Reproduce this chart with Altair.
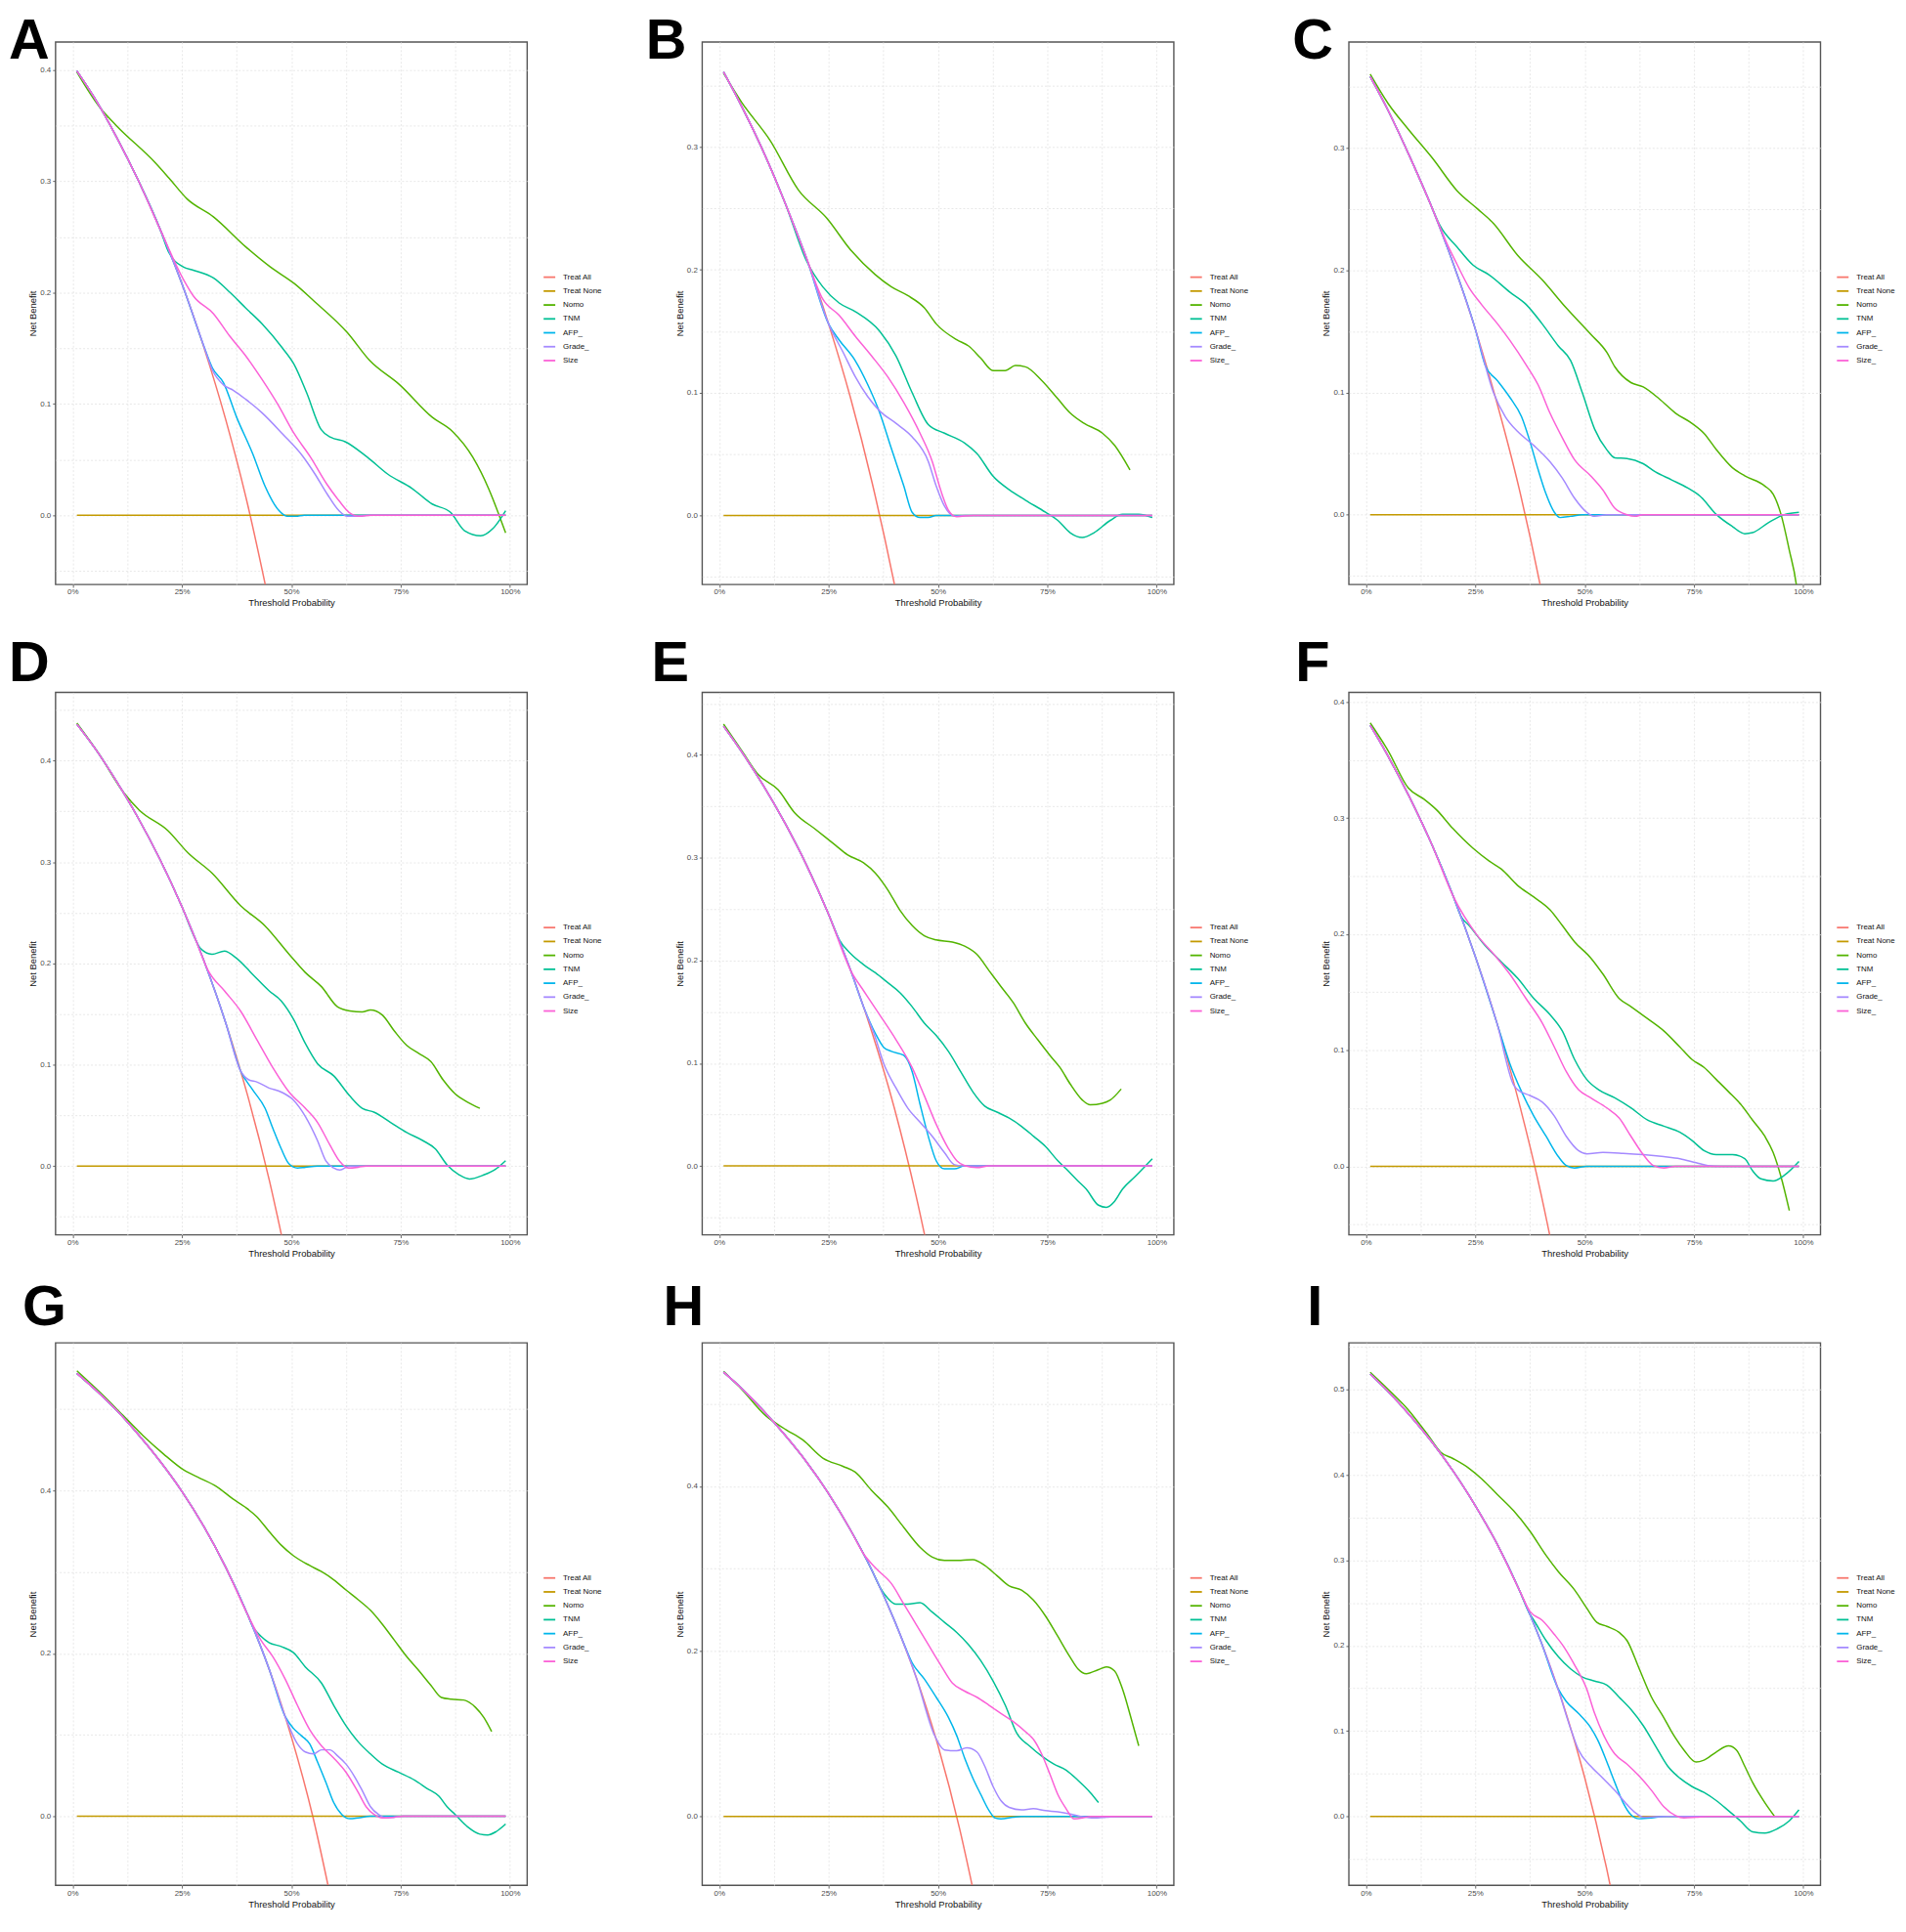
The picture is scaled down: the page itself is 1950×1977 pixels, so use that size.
import math
import altair as alt
import pandas as pd

FONT = "Liberation Sans"
HUE = ["#F8766D", "#C49A00", "#53B400", "#00C094", "#00B6EB", "#A58AFF", "#FB61D7"]
BASE_NAMES = ["Treat All", "Treat None", "Nomo", "TNM", "AFP_", "Grade_"]
NONE = [(0.01, 0.0), (0.99, 0.0)]

# ---------------- Panel A ----------------
A_ALL = [(0.01,0.399),(0.05,0.375),(0.10,0.340),(0.15,0.301),(0.20,0.257),(0.25,0.208),(0.30,0.151),(0.35,0.086),(0.40,0.010),(0.45,-0.080)]
A_NOMO = [(0.01,0.398),(0.063,0.366),(0.10,0.350),(0.188,0.317),(0.22,0.303),(0.262,0.284),(0.322,0.268),(0.396,0.241),(0.452,0.223),(0.507,0.208),(0.55,0.193),(0.628,0.164),(0.679,0.139),(0.748,0.117),(0.822,0.088),(0.869,0.075),(0.915,0.052),(0.952,0.023),(0.975,0.0),(0.99,-0.016)]
A_TNM = [(0.01,0.399),(0.05,0.375),(0.10,0.340),(0.15,0.301),(0.20,0.257),(0.22,0.236),(0.253,0.223),(0.276,0.220),(0.322,0.213),(0.36,0.200),(0.396,0.186),(0.433,0.172),(0.48,0.150),(0.507,0.135),(0.535,0.110),(0.568,0.077),(0.59,0.070),(0.623,0.066),(0.674,0.052),(0.72,0.037),(0.776,0.024),(0.822,0.010),(0.864,0.0025),(0.896,-0.014),(0.933,-0.0185),(0.961,-0.012),(0.99,0.004)]
A_AFP = [(0.01,0.399),(0.05,0.375),(0.10,0.340),(0.15,0.301),(0.20,0.257),(0.25,0.208),(0.30,0.152),(0.32,0.132),(0.345,0.119),(0.375,0.088),(0.412,0.055),(0.44,0.026),(0.472,0.004),(0.49,-0.001),(0.51,-0.001),(0.53,0.0),(0.99,0.0)]
A_GRADE = [(0.01,0.399),(0.05,0.375),(0.10,0.340),(0.15,0.301),(0.20,0.257),(0.25,0.208),(0.30,0.152),(0.32,0.130),(0.345,0.117),(0.368,0.112),(0.396,0.104),(0.433,0.092),(0.48,0.073),(0.526,0.053),(0.554,0.037),(0.582,0.019),(0.609,0.004),(0.628,-0.001),(0.646,-0.001),(0.674,0.0),(0.99,0.0)]
A_SIZE = [(0.01,0.399),(0.05,0.375),(0.10,0.340),(0.15,0.301),(0.20,0.257),(0.253,0.212),(0.276,0.197),(0.322,0.181),(0.359,0.161),(0.396,0.143),(0.433,0.122),(0.47,0.099),(0.507,0.073),(0.544,0.052),(0.581,0.028),(0.609,0.013),(0.632,0.0025),(0.656,-0.001),(0.683,0.0),(0.99,0.0)]

# ---------------- Panel B ----------------
B_ALL = [(0.01,0.361),(0.05,0.334),(0.10,0.297),(0.15,0.255),(0.20,0.209),(0.25,0.156),(0.30,0.096),(0.35,0.026),(0.40,-0.055),(0.42,-0.091)]
B_NOMO = [(0.01,0.360),(0.052,0.336),(0.117,0.305),(0.181,0.265),(0.246,0.242),(0.302,0.2155),(0.357,0.196),(0.394,0.186),(0.431,0.179),(0.469,0.169),(0.496,0.156),(0.543,0.143),(0.57,0.138),(0.598,0.128),(0.626,0.118),(0.654,0.118),(0.677,0.122),(0.70,0.121),(0.737,0.110),(0.774,0.095),(0.802,0.0835),(0.834,0.075),(0.876,0.067),(0.904,0.057),(0.939,0.037)]
B_TNM = [(0.01,0.361),(0.05,0.334),(0.10,0.297),(0.15,0.255),(0.20,0.207),(0.237,0.186),(0.274,0.173),(0.311,0.166),(0.367,0.150),(0.404,0.130),(0.441,0.100),(0.478,0.074),(0.515,0.067),(0.561,0.059),(0.589,0.0505),(0.626,0.032),(0.663,0.021),(0.70,0.0125),(0.746,0.0026),(0.774,-0.004),(0.802,-0.014),(0.83,-0.018),(0.857,-0.014),(0.894,-0.004),(0.922,0.001),(0.959,0.001),(0.99,-0.0017)]
B_AFP = [(0.01,0.361),(0.05,0.334),(0.10,0.297),(0.15,0.255),(0.20,0.209),(0.25,0.156),(0.274,0.143),(0.311,0.126),(0.339,0.107),(0.367,0.0835),(0.394,0.054),(0.422,0.024),(0.441,0.0026),(0.459,-0.0017),(0.478,-0.0017),(0.496,0.0),(0.99,0.0)]
B_GRADE = [(0.01,0.361),(0.05,0.334),(0.10,0.297),(0.15,0.255),(0.20,0.209),(0.25,0.156),(0.283,0.133),(0.311,0.113),(0.339,0.097),(0.367,0.085),(0.404,0.075),(0.441,0.064),(0.478,0.044),(0.496,0.024),(0.515,0.0076),(0.538,-0.0007),(0.561,0.0),(0.99,0.0)]
B_SIZE = [(0.01,0.361),(0.05,0.334),(0.10,0.297),(0.15,0.255),(0.20,0.209),(0.237,0.176),(0.274,0.163),(0.311,0.146),(0.348,0.130),(0.385,0.113),(0.422,0.092),(0.459,0.067),(0.487,0.044),(0.506,0.021),(0.524,0.0043),(0.543,-0.001),(0.58,0.0),(0.99,0.0)]

# ---------------- Panel C ----------------
C_ALL = [(0.01,0.358),(0.05,0.331),(0.10,0.293),(0.15,0.252),(0.20,0.205),(0.25,0.152),(0.30,0.091),(0.35,0.022),(0.40,-0.060),(0.42,-0.097)]
C_NOMO = [(0.01,0.360),(0.051,0.336),(0.097,0.315),(0.153,0.291),(0.208,0.265),(0.255,0.250),(0.292,0.238),(0.347,0.212),(0.403,0.192),(0.458,0.169),(0.514,0.1475),(0.551,0.1326),(0.569,0.121),(0.606,0.108),(0.634,0.1045),(0.671,0.0946),(0.708,0.083),(0.745,0.0748),(0.773,0.0665),(0.801,0.0533),(0.838,0.0384),(0.866,0.0318),(0.912,0.0235),(0.931,0.0169),(0.949,0.0003),(0.968,-0.029),(0.984,-0.057),(0.99,-0.075)]
C_TNM = [(0.01,0.358),(0.05,0.331),(0.10,0.293),(0.15,0.252),(0.17,0.236),(0.208,0.219),(0.245,0.204),(0.282,0.196),(0.329,0.182),(0.366,0.172),(0.403,0.156),(0.44,0.138),(0.468,0.126),(0.495,0.0996),(0.523,0.070),(0.551,0.053),(0.569,0.0466),(0.597,0.046),(0.634,0.0417),(0.662,0.035),(0.699,0.0285),(0.736,0.0218),(0.764,0.0152),(0.801,0.0003),(0.838,-0.0096),(0.866,-0.0155),(0.884,-0.0146),(0.921,-0.0063),(0.958,0.0003),(0.99,0.002)]
C_AFP = [(0.01,0.358),(0.05,0.331),(0.10,0.293),(0.15,0.252),(0.20,0.205),(0.25,0.152),(0.273,0.122),(0.301,0.1095),(0.329,0.096),(0.356,0.080),(0.375,0.060),(0.394,0.0367),(0.412,0.0169),(0.431,0.002),(0.444,-0.0023),(0.468,-0.0013),(0.495,0.0),(0.99,0.0)]
C_GRADE = [(0.01,0.358),(0.05,0.331),(0.10,0.293),(0.15,0.252),(0.20,0.205),(0.25,0.152),(0.292,0.0996),(0.319,0.080),(0.347,0.068),(0.384,0.0566),(0.421,0.0433),(0.449,0.030),(0.477,0.0136),(0.505,0.002),(0.523,-0.0013),(0.55,0.0),(0.99,0.0)]
C_SIZE = [(0.01,0.358),(0.05,0.331),(0.10,0.293),(0.15,0.252),(0.185,0.222),(0.208,0.205),(0.236,0.1856),(0.264,0.172),(0.301,0.156),(0.329,0.1426),(0.366,0.1227),(0.394,0.106),(0.421,0.083),(0.449,0.063),(0.477,0.045),(0.514,0.0318),(0.542,0.0202),(0.569,0.0053),(0.597,0.0),(0.616,-0.0013),(0.634,0.0),(0.99,0.0)]

# ---------------- Panel D ----------------
D_ALL = [(0.01,0.436),(0.05,0.413),(0.10,0.380),(0.15,0.3435),(0.20,0.3025),(0.25,0.256),(0.30,0.203),(0.35,0.1415),(0.40,0.070),(0.45,-0.0145),(0.48,-0.073)]
D_NOMO = [(0.01,0.437),(0.06,0.407),(0.116,0.369),(0.153,0.351),(0.218,0.331),(0.264,0.309),(0.319,0.289),(0.384,0.257),(0.44,0.237),(0.495,0.209),(0.532,0.191),(0.569,0.177),(0.606,0.157),(0.634,0.153),(0.662,0.152),(0.681,0.154),(0.708,0.149),(0.736,0.133),(0.764,0.119),(0.792,0.111),(0.819,0.103),(0.847,0.085),(0.875,0.071),(0.903,0.063),(0.931,0.057)]
D_TNM = [(0.01,0.436),(0.05,0.413),(0.10,0.380),(0.15,0.3435),(0.20,0.3025),(0.25,0.256),(0.282,0.2227),(0.292,0.215),(0.319,0.209),(0.347,0.212),(0.375,0.205),(0.412,0.189),(0.449,0.173),(0.477,0.163),(0.505,0.145),(0.532,0.121),(0.56,0.101),(0.597,0.089),(0.634,0.069),(0.662,0.057),(0.69,0.053),(0.727,0.043),(0.764,0.033),(0.801,0.025),(0.829,0.017),(0.856,0.0012),(0.884,-0.0088),(0.907,-0.0128),(0.94,-0.0088),(0.968,-0.0028),(0.99,0.0052)]
D_AFP = [(0.01,0.436),(0.05,0.413),(0.10,0.380),(0.15,0.3435),(0.20,0.3025),(0.25,0.256),(0.30,0.203),(0.35,0.1415),(0.384,0.094),(0.412,0.075),(0.44,0.057),(0.458,0.037),(0.477,0.017),(0.495,0.002),(0.514,-0.002),(0.532,-0.0012),(0.56,0.0),(0.99,0.0)]
D_GRADE = [(0.01,0.436),(0.05,0.413),(0.10,0.380),(0.15,0.3435),(0.20,0.3025),(0.25,0.256),(0.30,0.203),(0.35,0.1415),(0.384,0.094),(0.403,0.085),(0.421,0.083),(0.449,0.077),(0.477,0.073),(0.505,0.065),(0.532,0.049),(0.56,0.025),(0.579,0.005),(0.597,-0.002),(0.611,-0.004),(0.634,0.0),(0.99,0.0)]
D_SIZE = [(0.01,0.436),(0.05,0.413),(0.10,0.380),(0.15,0.3435),(0.20,0.3025),(0.25,0.256),(0.282,0.2227),(0.31,0.193),(0.347,0.173),(0.384,0.153),(0.421,0.125),(0.458,0.097),(0.495,0.073),(0.532,0.057),(0.56,0.043),(0.588,0.021),(0.611,0.0044),(0.63,-0.002),(0.653,-0.0012),(0.671,0.0),(0.99,0.0)]

# ---------------- Panel E ----------------
E_ALL = [(0.01,0.428),(0.05,0.404),(0.10,0.371),(0.15,0.334),(0.20,0.2925),(0.25,0.245),(0.30,0.191),(0.35,0.129),(0.40,0.057),(0.45,-0.029),(0.48,-0.088)]
E_NOMO = [(0.01,0.430),(0.052,0.404),(0.089,0.381),(0.135,0.366),(0.172,0.344),(0.219,0.328),(0.265,0.3125),(0.293,0.303),(0.33,0.295),(0.357,0.285),(0.385,0.269),(0.413,0.249),(0.441,0.234),(0.469,0.224),(0.496,0.220),(0.533,0.218),(0.561,0.214),(0.589,0.206),(0.617,0.190),(0.644,0.1746),(0.672,0.159),(0.70,0.139),(0.728,0.123),(0.756,0.1076),(0.779,0.0958),(0.802,0.080),(0.83,0.0642),(0.848,0.0595),(0.876,0.061),(0.894,0.0642),(0.919,0.0749)]
E_TNM = [(0.01,0.428),(0.05,0.404),(0.10,0.371),(0.15,0.334),(0.20,0.2925),(0.25,0.245),(0.274,0.2204),(0.302,0.206),(0.33,0.196),(0.357,0.188),(0.385,0.1785),(0.413,0.1687),(0.441,0.155),(0.469,0.139),(0.496,0.127),(0.524,0.1115),(0.552,0.0918),(0.58,0.0721),(0.607,0.0583),(0.635,0.0524),(0.663,0.0465),(0.691,0.0386),(0.719,0.0288),(0.746,0.0189),(0.774,0.0051),(0.793,-0.0028),(0.82,-0.0146),(0.839,-0.0225),(0.867,-0.0382),(0.885,-0.0402),(0.904,-0.0343),(0.922,-0.0225),(0.95,-0.0106),(0.99,0.0071)]
E_AFP = [(0.01,0.428),(0.05,0.404),(0.10,0.371),(0.15,0.334),(0.20,0.2925),(0.25,0.245),(0.30,0.191),(0.33,0.155),(0.357,0.129),(0.376,0.1155),(0.394,0.1115),(0.422,0.1076),(0.441,0.0918),(0.459,0.0603),(0.478,0.0288),(0.496,0.0051),(0.515,-0.0028),(0.538,-0.0028),(0.561,0.0),(0.99,0.0)]
E_GRADE = [(0.01,0.428),(0.05,0.404),(0.10,0.371),(0.15,0.334),(0.20,0.2925),(0.25,0.245),(0.30,0.191),(0.33,0.155),(0.357,0.125),(0.376,0.0997),(0.404,0.076),(0.431,0.0564),(0.459,0.0426),(0.487,0.0288),(0.515,0.013),(0.538,0.0012),(0.561,0.0),(0.99,0.0)]
E_SIZE = [(0.01,0.428),(0.05,0.404),(0.10,0.371),(0.15,0.334),(0.20,0.2925),(0.25,0.245),(0.302,0.189),(0.33,0.1706),(0.367,0.147),(0.404,0.123),(0.441,0.0958),(0.469,0.0682),(0.496,0.0406),(0.524,0.0169),(0.543,0.0051),(0.561,0.0004),(0.589,-0.0016),(0.617,0.0),(0.99,0.0)]

# ---------------- Panel F ----------------
F_ALL = [(0.01,0.380),(0.05,0.354),(0.10,0.318),(0.15,0.278),(0.20,0.2325),(0.25,0.181),(0.30,0.123),(0.35,0.055),(0.40,-0.023),(0.43,-0.077)]
F_NOMO = [(0.01,0.382),(0.051,0.358),(0.097,0.326),(0.134,0.316),(0.162,0.307),(0.199,0.291),(0.245,0.274),(0.282,0.263),(0.31,0.256),(0.347,0.242),(0.384,0.232),(0.421,0.221),(0.449,0.2075),(0.477,0.1935),(0.514,0.1796),(0.542,0.1656),(0.579,0.1446),(0.606,0.1376),(0.644,0.1272),(0.681,0.1167),(0.718,0.1027),(0.745,0.0922),(0.773,0.0852),(0.801,0.0748),(0.829,0.0643),(0.856,0.0538),(0.884,0.0398),(0.912,0.0259),(0.931,0.0119),(0.949,-0.0091),(0.968,-0.0381)]
F_TNM = [(0.01,0.380),(0.05,0.354),(0.10,0.318),(0.15,0.278),(0.20,0.2325),(0.218,0.215),(0.236,0.2075),(0.273,0.190),(0.31,0.176),(0.347,0.162),(0.384,0.1446),(0.421,0.1307),(0.449,0.1167),(0.477,0.0922),(0.505,0.0748),(0.532,0.066),(0.569,0.059),(0.606,0.0503),(0.644,0.0398),(0.681,0.0346),(0.718,0.0293),(0.745,0.0224),(0.773,0.0136),(0.801,0.0101),(0.838,0.0101),(0.866,0.0066),(0.884,-0.0038),(0.903,-0.0108),(0.931,-0.0126),(0.958,-0.0073),(0.99,0.0042)]
F_AFP = [(0.01,0.380),(0.05,0.354),(0.10,0.318),(0.15,0.278),(0.20,0.2325),(0.25,0.181),(0.30,0.123),(0.329,0.0887),(0.356,0.0643),(0.384,0.0433),(0.412,0.0259),(0.44,0.0084),(0.458,0.0007),(0.477,-0.0014),(0.505,0.0),(0.99,0.0)]
F_GRADE = [(0.01,0.380),(0.05,0.354),(0.10,0.318),(0.15,0.278),(0.20,0.2325),(0.25,0.181),(0.30,0.123),(0.338,0.070),(0.347,0.066),(0.375,0.061),(0.403,0.0555),(0.431,0.0433),(0.458,0.0259),(0.486,0.0136),(0.505,0.0108),(0.542,0.0119),(0.588,0.0112),(0.634,0.0101),(0.681,0.0084),(0.718,0.0066),(0.755,0.0031),(0.782,0.0007),(0.81,0.0),(0.99,0.0)]
F_SIZE = [(0.01,0.380),(0.05,0.354),(0.10,0.318),(0.15,0.278),(0.20,0.2325),(0.255,0.1988),(0.292,0.183),(0.329,0.1656),(0.366,0.1446),(0.403,0.1237),(0.431,0.1027),(0.458,0.0817),(0.486,0.066),(0.514,0.059),(0.551,0.0503),(0.579,0.0416),(0.606,0.0259),(0.634,0.0101),(0.657,0.0007),(0.681,-0.0014),(0.708,0.0),(0.99,0.0)]

# ---------------- Panel G ----------------
G_ALL = [(0.01,0.544),(0.05,0.525),(0.10,0.499),(0.15,0.469),(0.20,0.436),(0.25,0.399),(0.30,0.356),(0.35,0.306),(0.40,0.248),(0.45,0.180),(0.50,0.098),(0.55,-0.002),(0.59,-0.100)]
G_NOMO = [(0.01,0.547),(0.06,0.522),(0.116,0.492),(0.162,0.467),(0.208,0.445),(0.255,0.425),(0.292,0.415),(0.329,0.405),(0.366,0.390),(0.394,0.380),(0.421,0.368),(0.449,0.350),(0.477,0.333),(0.505,0.320),(0.542,0.308),(0.569,0.3005),(0.597,0.2905),(0.625,0.278),(0.653,0.266),(0.681,0.253),(0.708,0.236),(0.736,0.216),(0.764,0.196),(0.792,0.1786),(0.819,0.161),(0.843,0.146),(0.866,0.1438),(0.894,0.1428),(0.921,0.1338),(0.94,0.1214),(0.958,0.104)]
G_TNM = [(0.01,0.544),(0.05,0.525),(0.10,0.499),(0.15,0.469),(0.20,0.436),(0.25,0.399),(0.30,0.356),(0.35,0.306),(0.40,0.248),(0.412,0.233),(0.431,0.221),(0.449,0.2134),(0.477,0.2085),(0.505,0.201),(0.532,0.1836),(0.569,0.1637),(0.597,0.1363),(0.625,0.1114),(0.653,0.0915),(0.681,0.0766),(0.708,0.0642),(0.745,0.0542),(0.782,0.0443),(0.81,0.0343),(0.838,0.0244),(0.856,0.0119),(0.875,0.002),(0.903,-0.0129),(0.931,-0.0219),(0.949,-0.0229),(0.968,-0.0189),(0.99,-0.0095)]
G_AFP = [(0.01,0.544),(0.05,0.525),(0.10,0.499),(0.15,0.469),(0.20,0.436),(0.25,0.399),(0.30,0.356),(0.35,0.306),(0.40,0.248),(0.45,0.180),(0.486,0.1226),(0.505,0.108),(0.523,0.099),(0.542,0.089),(0.56,0.0667),(0.579,0.0418),(0.597,0.0169),(0.616,0.002),(0.634,-0.003),(0.653,-0.002),(0.681,0.0),(0.99,0.0)]
G_GRADE = [(0.01,0.544),(0.05,0.525),(0.10,0.499),(0.15,0.469),(0.20,0.436),(0.25,0.399),(0.30,0.356),(0.35,0.306),(0.40,0.248),(0.45,0.180),(0.486,0.1226),(0.514,0.089),(0.532,0.079),(0.551,0.0766),(0.569,0.0816),(0.588,0.0816),(0.606,0.0741),(0.625,0.0642),(0.644,0.0493),(0.662,0.0318),(0.681,0.0119),(0.70,0.002),(0.718,-0.002),(0.736,-0.001),(0.755,0.0),(0.99,0.0)]
G_SIZE = [(0.01,0.544),(0.05,0.525),(0.10,0.499),(0.15,0.469),(0.20,0.436),(0.25,0.399),(0.30,0.356),(0.35,0.306),(0.40,0.248),(0.431,0.216),(0.458,0.196),(0.486,0.1687),(0.514,0.1363),(0.542,0.1065),(0.569,0.0866),(0.597,0.0716),(0.625,0.0542),(0.653,0.0294),(0.671,0.0119),(0.69,0.002),(0.708,-0.002),(0.736,-0.001),(0.755,0.0),(0.99,0.0)]

# ---------------- Panel H ----------------
H_ALL = [(0.01,0.538),(0.05,0.519),(0.10,0.492),(0.15,0.462),(0.20,0.429),(0.25,0.391),(0.30,0.347),(0.35,0.297),(0.40,0.238),(0.45,0.169),(0.50,0.086),(0.55,-0.016),(0.58,-0.088)]
H_NOMO = [(0.01,0.539),(0.052,0.517),(0.107,0.485),(0.154,0.468),(0.191,0.456),(0.237,0.434),(0.283,0.424),(0.311,0.417),(0.348,0.395),(0.385,0.375),(0.422,0.350),(0.459,0.326),(0.487,0.314),(0.515,0.310),(0.552,0.310),(0.58,0.311),(0.607,0.304),(0.635,0.2915),(0.663,0.279),(0.691,0.274),(0.718,0.262),(0.746,0.2425),(0.774,0.218),(0.802,0.193),(0.82,0.1787),(0.839,0.1728),(0.867,0.1777),(0.885,0.181),(0.904,0.176),(0.922,0.154),(0.941,0.1198),(0.959,0.0854)]
H_TNM = [(0.01,0.538),(0.05,0.519),(0.10,0.492),(0.15,0.462),(0.20,0.429),(0.25,0.391),(0.30,0.347),(0.35,0.297),(0.367,0.278),(0.385,0.2645),(0.404,0.257),(0.431,0.257),(0.459,0.2587),(0.487,0.2474),(0.515,0.235),(0.543,0.2228),(0.57,0.208),(0.598,0.1885),(0.626,0.164),(0.654,0.1345),(0.681,0.100),(0.709,0.0854),(0.737,0.0731),(0.765,0.0633),(0.793,0.056),(0.82,0.0437),(0.848,0.029),(0.867,0.0167)]
H_AFP = [(0.01,0.538),(0.05,0.519),(0.10,0.492),(0.15,0.462),(0.20,0.429),(0.25,0.391),(0.30,0.347),(0.35,0.297),(0.40,0.238),(0.422,0.2093),(0.441,0.186),(0.469,0.1664),(0.496,0.1443),(0.524,0.1198),(0.543,0.0977),(0.561,0.0707),(0.58,0.0461),(0.598,0.0265),(0.617,0.0069),(0.631,-0.002),(0.644,-0.003),(0.672,-0.001),(0.691,0.0),(0.99,0.0)]
H_GRADE = [(0.01,0.538),(0.05,0.519),(0.10,0.492),(0.15,0.462),(0.20,0.429),(0.25,0.391),(0.30,0.347),(0.35,0.297),(0.40,0.238),(0.45,0.169),(0.492,0.0984),(0.515,0.0805),(0.543,0.0795),(0.566,0.083),(0.589,0.078),(0.607,0.0609),(0.626,0.0363),(0.644,0.0191),(0.663,0.0108),(0.691,0.0079),(0.718,0.0093),(0.746,0.0069),(0.774,0.0054),(0.802,0.0029),(0.83,-0.0005),(0.857,-0.002),(0.885,-0.001),(0.913,0.0),(0.99,0.0)]
H_SIZE = [(0.01,0.538),(0.05,0.519),(0.10,0.492),(0.15,0.462),(0.20,0.429),(0.25,0.391),(0.30,0.347),(0.33,0.318),(0.357,0.301),(0.394,0.2817),(0.422,0.2572),(0.45,0.2326),(0.478,0.208),(0.506,0.1836),(0.533,0.1615),(0.561,0.1517),(0.589,0.1443),(0.617,0.1345),(0.644,0.1247),(0.672,0.1148),(0.70,0.1026),(0.719,0.0928),(0.737,0.0756),(0.756,0.051),(0.774,0.0265),(0.793,0.0093),(0.811,-0.003),(0.83,-0.002),(0.848,0.0),(0.99,0.0)]

# ---------------- Panel I ----------------
I_ALL = [(0.01,0.518),(0.05,0.498),(0.10,0.470),(0.15,0.439),(0.20,0.404),(0.25,0.364),(0.30,0.319),(0.35,0.266),(0.40,0.205),(0.45,0.133),(0.50,0.046),(0.55,-0.060),(0.57,-0.109)]
I_NOMO = [(0.01,0.520),(0.051,0.500),(0.097,0.476),(0.144,0.445),(0.171,0.4265),(0.199,0.419),(0.236,0.4075),(0.264,0.3956),(0.301,0.3767),(0.338,0.3577),(0.375,0.334),(0.412,0.3055),(0.44,0.2865),(0.477,0.2652),(0.505,0.2438),(0.528,0.2272),(0.551,0.2225),(0.579,0.2154),(0.597,0.2059),(0.625,0.1727),(0.653,0.1395),(0.681,0.1157),(0.699,0.0991),(0.727,0.0778),(0.755,0.0636),(0.773,0.0659),(0.801,0.0754),(0.829,0.0825),(0.847,0.0778),(0.866,0.0588),(0.884,0.0398),(0.912,0.0161),(0.935,-0.0005)]
I_TNM = [(0.01,0.518),(0.05,0.498),(0.10,0.470),(0.15,0.439),(0.20,0.404),(0.25,0.364),(0.30,0.319),(0.35,0.266),(0.375,0.2368),(0.384,0.2296),(0.412,0.2059),(0.44,0.1869),(0.468,0.1727),(0.495,0.1632),(0.523,0.1584),(0.551,0.1537),(0.579,0.1395),(0.606,0.1252),(0.634,0.1063),(0.662,0.0825),(0.69,0.0588),(0.718,0.0446),(0.745,0.0351),(0.773,0.028),(0.801,0.0185),(0.829,0.0066),(0.856,-0.0052),(0.884,-0.018),(0.912,-0.0195),(0.94,-0.0147),(0.968,-0.0052),(0.99,0.0076)]
I_AFP = [(0.01,0.518),(0.05,0.498),(0.10,0.470),(0.15,0.439),(0.20,0.404),(0.25,0.364),(0.30,0.319),(0.35,0.266),(0.40,0.205),(0.44,0.149),(0.458,0.1347),(0.486,0.1205),(0.514,0.1039),(0.532,0.0873),(0.551,0.0636),(0.569,0.0398),(0.588,0.0161),(0.606,0.0019),(0.625,-0.0028),(0.653,-0.0019),(0.681,0.0),(0.99,0.0)]
I_GRADE = [(0.01,0.518),(0.05,0.498),(0.10,0.470),(0.15,0.439),(0.20,0.404),(0.25,0.364),(0.30,0.319),(0.35,0.266),(0.40,0.205),(0.44,0.148),(0.468,0.103),(0.486,0.0778),(0.514,0.0588),(0.542,0.0446),(0.569,0.0304),(0.597,0.0138),(0.616,0.0043),(0.634,-0.001),(0.662,-0.0005),(0.69,0.0),(0.99,0.0)]
I_SIZE = [(0.01,0.518),(0.05,0.498),(0.10,0.470),(0.15,0.439),(0.20,0.404),(0.25,0.364),(0.30,0.319),(0.35,0.266),(0.375,0.240),(0.403,0.2296),(0.431,0.213),(0.449,0.2011),(0.477,0.1774),(0.505,0.149),(0.523,0.1205),(0.542,0.0968),(0.569,0.0731),(0.597,0.0612),(0.625,0.047),(0.653,0.0304),(0.681,0.0114),(0.708,0.0009),(0.727,-0.0019),(0.755,-0.001),(0.782,0.0),(0.99,0.0)]

# panel: letter, series, last legend label, y-range, major step, title dx, title dy
PANELS = [
    ("A", [A_ALL, NONE, A_NOMO, A_TNM, A_AFP, A_GRADE, A_SIZE], "Size",  (-0.0622, 0.4251), 0.1, -48, 29),
    ("B", [B_ALL, NONE, B_NOMO, B_TNM, B_AFP, B_GRADE, B_SIZE], "Size_", (-0.0561, 0.3855), 0.1, -58, 29),
    ("C", [C_ALL, NONE, C_NOMO, C_TNM, C_AFP, C_GRADE, C_SIZE], "Size_", (-0.0569, 0.3864), 0.1, -58, 29),
    ("D", [D_ALL, NONE, D_NOMO, D_TNM, D_AFP, D_GRADE, D_SIZE], "Size",  (-0.0679, 0.4675), 0.1, -48, 1),
    ("E", [E_ALL, NONE, E_NOMO, E_TNM, E_AFP, E_GRADE, E_SIZE], "Size_", (-0.0670, 0.4610), 0.1, -52, 1),
    ("F", [F_ALL, NONE, F_NOMO, F_TNM, F_AFP, F_GRADE, F_SIZE], "Size_", (-0.0590, 0.4084), 0.1, -55, 1),
    ("G", [G_ALL, NONE, G_NOMO, G_TNM, G_AFP, G_GRADE, G_SIZE], "Size",  (-0.0846, 0.5816), 0.2, -34, -6),
    ("H", [H_ALL, NONE, H_NOMO, H_TNM, H_AFP, H_GRADE, H_SIZE], "Size_", (-0.0834, 0.5737), 0.2, -40, -6),
    ("I", [I_ALL, NONE, I_NOMO, I_TNM, I_AFP, I_GRADE, I_SIZE], "Size_", (-0.0806, 0.5546), 0.1, -43, -6),
]

W, H = 485, 558
XDOM = [-0.039, 1.039]


def make_panel(letter, series, size_label, ydom, major, dx, dy):
    names = BASE_NAMES + [size_label]
    rows = []
    for name, pts in zip(names, series):
        for t, nb in pts:
            rows.append({"model": name, "t": t, "nb": nb})
    df = pd.DataFrame(rows)

    lo, hi = ydom
    step = major / 2
    k = math.ceil(lo / step - 1e-9)
    yvals = []
    while k * step <= hi + 1e-9:
        yvals.append(round(k * step, 4))
        k += 1
    m = int(round(1 / major))
    ymaj = f"abs(datum.value*{m} - round(datum.value*{m})) < 1e-6"
    xvals = [i * 0.125 for i in range(9)]
    xmaj = "abs(datum.value*4 - round(datum.value*4)) < 1e-6"

    xaxis = alt.Axis(
        values=xvals,
        labelExpr=f"({xmaj}) ? format(datum.value, '.0%') : ''",
        tickOpacity={"condition": {"test": xmaj, "value": 1}, "value": 0},
        title="Threshold Probability",
        labelPadding=1, titlePadding=2,
    )
    yaxis = alt.Axis(
        values=yvals,
        labelExpr=f"({ymaj}) ? format(datum.value, '.1f') : ''",
        tickOpacity={"condition": {"test": ymaj, "value": 1}, "value": 0},
        title="Net Benefit",
        labelPadding=2, titlePadding=2,
    )
    legend = alt.Legend(
        title=None, orient="none", legendX=W + 16, legendY=235,
        symbolType="stroke", symbolSize=144, symbolStrokeWidth=1.8,
        labelFont=FONT, labelFontSize=8, labelColor="#111111",
        labelOffset=7, rowPadding=3.3, padding=0, labelLimit=200,
    )
    return alt.Chart(df).mark_line(strokeWidth=1.5, interpolate="monotone", clip=True).encode(
        x=alt.X("t:Q", scale=alt.Scale(domain=XDOM, nice=False, zero=False), axis=xaxis),
        y=alt.Y("nb:Q", scale=alt.Scale(domain=[lo, hi], nice=False, zero=False), axis=yaxis),
        color=alt.Color("model:N", scale=alt.Scale(domain=names, range=HUE), legend=legend),
    ).properties(
        width=W, height=H,
        title=alt.TitleParams(
            text=letter, anchor="start", frame="group", orient="top",
            font=FONT, fontSize=58, fontWeight="bold", color="black",
            baseline="top", offset=0, dx=dx, dy=dy,
        ),
    )


panels = [make_panel(*p) for p in PANELS]

chart = alt.concat(
    *panels, columns=3, bounds="flush",
    spacing=alt.RowColnumber(row=111, column=180),
).resolve_scale(
    x="independent", y="independent", color="independent"
).resolve_legend(
    color="independent"
).properties(
    padding={"left": 0, "top": 0, "right": 2, "bottom": 2},
    background="white",
).configure_view(
    stroke="#555555", strokeWidth=1.4,
).configure_axis(
    labelFont=FONT, labelFontSize=8, labelColor="#4d4d4d",
    titleFont=FONT, titleFontSize=9.5, titleColor="#111111", titleFontWeight="normal",
    tickSize=3, tickColor="#444444", tickWidth=0.8,
    domain=False,
    gridColor="#e2e2e2", gridWidth=0.8, gridDash=[2, 2],
)

chart.save("out.html", embed_options={"renderer": "svg", "actions": False})
